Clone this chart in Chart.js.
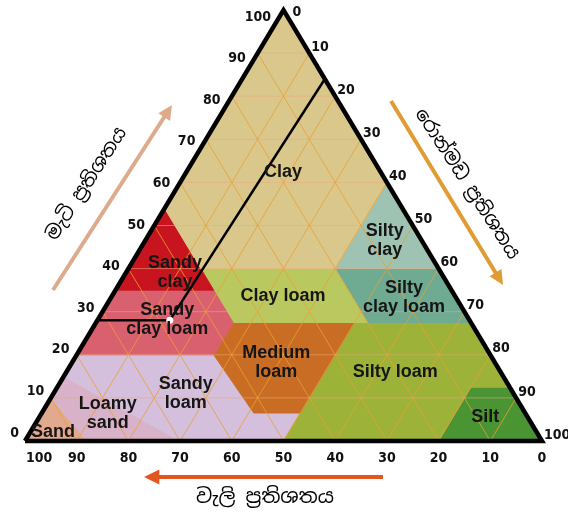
<!DOCTYPE html>
<html>
<head>
<meta charset="utf-8">
<script src="https://cdn.jsdelivr.net/npm/chart.js@4.4.1/dist/chart.umd.min.js"></script>
<style>
  html, body { margin: 0; padding: 0; background: #fff; }
  #wrap { width: 568px; height: 518px; }
</style>
</head>
<body>
<div id="wrap"><canvas id="myChart"></canvas></div>
<script>
// texture classes: corners as [clay %, silt %] (sand = the rest)
const classNames = ['Clay', 'Sandy clay', 'Sandy clay loam', 'Clay loam', 'Medium loam',
  'Silty clay', 'Silty clay loam', 'Silty loam', 'Silt', 'Sandy loam', 'Loamy sand', 'Sand'];
const clayPts = [[100, 0], [54, 0], [40, 14], [40, 40], [60, 40]];
const sandyClayPts = [[54, 0], [35, 0], [35, 19], [40, 14]];
const sandyClayLoamPts = [[35, 0], [20, 0], [20, 26.5], [27.5, 26.5], [35, 19]];
const clayLoamPts = [[40, 14], [35, 19], [27.5, 26.5], [27.5, 52.5], [40, 40]];
const mediumLoamPts = [[27.5, 26.5], [20, 26.5], [6.5, 41], [6.5, 50], [27.5, 50]];
const siltyClayPts = [[60, 40], [40, 40], [40, 60]];
const siltyClayLoamPts = [[40, 40], [27.5, 52.5], [27.5, 72.5], [40, 60]];
const siltyLoamPts = [[27.5, 50], [0, 50], [0, 80], [12.5, 80], [12.5, 87.5], [27.5, 72.5]];
const siltPts = [[0, 80], [0, 100], [12.5, 87.5], [12.5, 80]];
const sandyLoamPts = [[20, 0], [15, 0], [0, 30], [0, 50], [6.5, 50], [6.5, 41], [20, 26.5]];
const loamySandPts = [[15, 0], [10, 0], [0, 12], [0, 30]];
const sandPts = [[10, 0], [0, 0], [0, 12]];

// reading example: clay line and silt line
const exampleClayLine = [[28, 0], [28, 14]];
const exampleSiltLine = [[28, 14], [84, 16]];

const tickValues = [0, 10, 20, 30, 40, 50, 60, 70, 80, 90, 100];
const clayTitle = 'මැටි ප්‍රතිශතය';
const siltTitle = 'රොන්මඩ ප්‍රතිශතය';
const sandTitle = 'වැලි ප්‍රතිශතය';

// [clay, silt] -> chart point
function tern(p) { return { x: p[1] + p[0] / 2, y: p[0] }; }

const regionColors = ['#d9c78c', '#c8141f', '#d9606f', '#bac95f', '#c96c24',
  '#9fc3b2', '#6fab93', '#9db238', '#4b9433', '#d4bfdc', '#d8b2c9', '#e1a98e'];
const regionPts = [clayPts, sandyClayPts, sandyClayLoamPts, clayLoamPts, mediumLoamPts,
  siltyClayPts, siltyClayLoamPts, siltyLoamPts, siltPts, sandyLoamPts, loamySandPts, sandPts];

const datasets = [];
regionPts.forEach(function(pts, i) {
  datasets.push({
    label: classNames[i],
    data: pts.concat([pts[0]]).map(tern),
    fill: 'shape',
    backgroundColor: regionColors[i],
    borderColor: regionColors[i],
    borderWidth: 1,
    pointRadius: 0,
    order: 4
  });
});

// 10 % grid in the three directions (clay, sand, silt)
for (let v = 10; v < 100; v += 10) {
  datasets.push({ data: [tern([v, 0]), tern([v, 100 - v])], borderColor: 'rgba(236,170,120,0.55)',
    borderWidth: 1, pointRadius: 0, fill: false, order: 3 });
  datasets.push({ data: [tern([100 - v, 0]), tern([0, 100 - v])], borderColor: 'rgba(232,160,50,0.8)',
    borderWidth: 1, pointRadius: 0, fill: false, order: 3 });
  datasets.push({ data: [tern([0, v]), tern([100 - v, v])], borderColor: 'rgba(232,160,50,0.8)',
    borderWidth: 1, pointRadius: 0, fill: false, order: 3 });
}

datasets.push({ data: exampleClayLine.map(tern), borderColor: '#000', borderWidth: 2.5,
  pointRadius: 0, fill: false, order: 2 });
datasets.push({ data: exampleSiltLine.map(tern), borderColor: '#000', borderWidth: 2.5,
  pointRadius: 0, fill: false, order: 2 });
datasets.push({ data: [tern(exampleSiltLine[0])], pointRadius: 3.5, pointBackgroundColor: '#fff',
  pointBorderWidth: 0, showLine: false, order: 1 });

// triangle outline
datasets.push({ data: [tern([0, 0]), tern([100, 0]), tern([0, 100]), tern([0, 0])],
  borderColor: '#000', borderWidth: 4.5, borderJoinStyle: 'miter', pointRadius: 0, fill: false, order: 1 });

const regionLabels = [
  { lines: ['Clay'], at: [62.4, 49.9] },
  { lines: ['Sandy', 'clay'], at: [39.2, 29.0] },
  { lines: ['Sandy', 'clay loam'], at: [28.1, 27.5] },
  { lines: ['Clay loam'], at: [33.6, 49.9] },
  { lines: ['Medium', 'loam'], at: [18.1, 48.6] },
  { lines: ['Silty', 'clay'], at: [46.6, 69.6] },
  { lines: ['Silty', 'clay loam'], at: [33.4, 73.3] },
  { lines: ['Silty loam'], at: [16.0, 71.6] },
  { lines: ['Silt'], at: [5.6, 89.0] },
  { lines: ['Sandy', 'loam'], at: [11.1, 31.1] },
  { lines: ['Loamy', 'sand'], at: [6.3, 16.0] },
  { lines: ['Sand'], at: [2.1, 5.4] }
];

function arrow(ctx, x1, y1, x2, y2, color, w, head) {
  const a = Math.atan2(y2 - y1, x2 - x1);
  ctx.save();
  ctx.strokeStyle = color;
  ctx.fillStyle = color;
  ctx.lineWidth = w;
  ctx.beginPath();
  ctx.moveTo(x1, y1);
  ctx.lineTo(x2 - Math.cos(a) * head * 0.8, y2 - Math.sin(a) * head * 0.8);
  ctx.stroke();
  ctx.beginPath();
  ctx.moveTo(x2, y2);
  ctx.lineTo(x2 - head * Math.cos(a - 0.45), y2 - head * Math.sin(a - 0.45));
  ctx.lineTo(x2 - head * Math.cos(a + 0.45), y2 - head * Math.sin(a + 0.45));
  ctx.closePath();
  ctx.fill();
  ctx.restore();
}

const ternaryText = {
  id: 'ternaryText',
  afterDraw(chart) {
    const { ctx, scales: { x, y } } = chart;
    const px = function(c, t) { return [x.getPixelForValue(t + c / 2), y.getPixelForValue(c)]; };
    ctx.save();
    ctx.fillStyle = '#111';
    ctx.font = 'bold 14px "Liberation Sans Narrow", "DejaVu Sans Condensed", sans-serif';
    ctx.textBaseline = 'middle';
    tickValues.forEach(function(v) {
      // clay, left side
      let p = px(v, 0);
      ctx.textAlign = 'right';
      ctx.fillText(String(v), p[0] - 6 - 0.065 * v, p[1] - 8 + 0.15 * v);
      // silt, right side
      p = px(100 - v, v);
      ctx.textAlign = 'left';
      if (v === 0) ctx.fillText(String(v), p[0] + 9, p[1] + 2);
      else ctx.fillText(String(v), p[0] + 2, p[1] - 6);
      // sand, bottom
      p = px(0, 100 - v);
      ctx.textAlign = v === 100 ? 'left' : 'center';
      ctx.fillText(String(v), v === 100 ? p[0] + 1 : p[0], p[1] + 17);
    });

    ctx.font = 'bold 18px "Liberation Sans", Arial, sans-serif';
    ctx.textAlign = 'center';
    ctx.fillStyle = '#161616';
    regionLabels.forEach(function(l) {
      const p = px(l.at[0], l.at[1] - l.at[0] / 2);
      const h = 19;
      l.lines.forEach(function(s, i) {
        ctx.fillText(s, p[0], p[1] + (i - (l.lines.length - 1) / 2) * h);
      });
    });

    arrow(ctx, 53, 290, 172, 105, '#ddaa8c', 4, 16);
    arrow(ctx, 391, 101, 503, 285, '#e09b32', 4, 16);
    arrow(ctx, 383, 477, 144, 477, '#e2561f', 4, 17);

    ctx.fillStyle = '#000';
    ctx.font = '20px "Noto Sans Sinhala", "Noto Serif Sinhala", "LKLUG", "Iskoola Pota", sans-serif';
    ctx.textAlign = 'center';
    ctx.fillText(sandTitle, 265, 497);

    ctx.font = '19px "Noto Sans Sinhala", "Noto Serif Sinhala", "LKLUG", "Iskoola Pota", sans-serif';
    ctx.save();
    ctx.translate(87, 184);
    ctx.rotate(-57 * Math.PI / 180);
    ctx.fillText(clayTitle, 0, 0);
    ctx.restore();

    ctx.save();
    ctx.translate(467, 184);
    ctx.rotate(57 * Math.PI / 180);
    ctx.fillText(siltTitle, 0, 0);
    ctx.restore();
    ctx.restore();
  }
};

document.addEventListener('DOMContentLoaded', function() {
  const ctx = document.getElementById('myChart').getContext('2d');
  new Chart(ctx, {
    type: 'line',
    data: { datasets: datasets },
    options: {
      responsive: true,
      maintainAspectRatio: false,
      animation: false,
      events: [],
      layout: { padding: { left: 25, right: 26, top: 10, bottom: 77 } },
      elements: { line: { tension: 0 } },
      datasets: { line: { clip: false } },
      plugins: {
        legend: { display: false },
        tooltip: { enabled: false }
      },
      scales: {
        x: { type: 'linear', min: 0, max: 100, display: false },
        y: { type: 'linear', min: 0, max: 100, display: false }
      }
    },
    plugins: [ternaryText]
  });
});
</script>
</body>
</html>
